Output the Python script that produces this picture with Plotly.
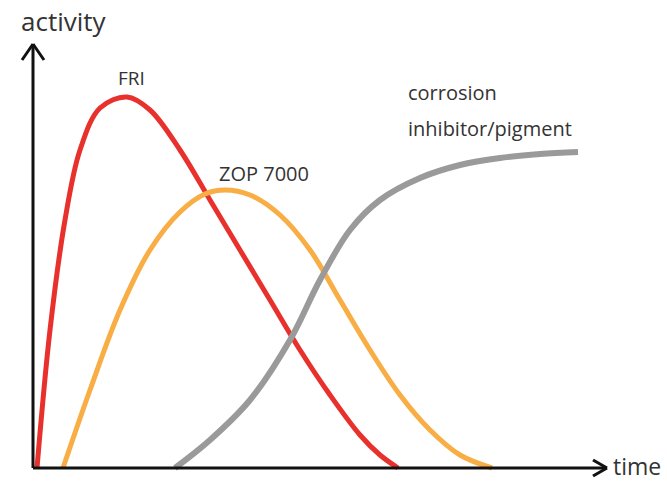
import plotly.graph_objects as go

# Data (x: time in arbitrary units, y: activity in arbitrary units)
fri_time = [4, 17, 32, 47, 67, 94, 117, 147, 177, 207, 237, 267, 297, 327, 347, 365]
fri_activity = [0, 138, 248, 318, 360, 371, 358, 318, 268, 218, 168, 118, 73, 33, 13, 0]

zop_time = [30, 57, 87, 117, 147, 172, 192, 217, 247, 277, 307, 337, 367, 397, 427, 459]
zop_activity = [0, 78, 158, 218, 256, 274, 278, 273, 253, 218, 168, 118, 73, 38, 13, 0]

ci_time = [142, 177, 217, 257, 287, 317, 347, 387, 427, 467, 507, 545]
ci_activity = [0, 28, 68, 128, 188, 238, 268, 290, 303, 310, 314, 316]

FONT = "Open Sans"
TXT = "#333333"

L, R, T, B = 13, 59, 32, 0
W, H = 667, 481
PW, PH = W - L - R, H - T - B

fig = go.Figure()
fig.add_trace(go.Scatter(x=fri_time, y=fri_activity, mode="lines",
                         line=dict(color="#e8302c", width=5, shape="spline", smoothing=1.0),
                         name="FRI", cliponaxis=False))
fig.add_trace(go.Scatter(x=zop_time, y=zop_activity, mode="lines",
                         line=dict(color="#f8ad45", width=5, shape="spline", smoothing=1.0),
                         name="ZOP 7000", cliponaxis=False))
fig.add_trace(go.Scatter(x=ci_time, y=ci_activity, mode="lines",
                         line=dict(color="#9a9a9a", width=6, shape="spline", smoothing=1.0),
                         name="corrosion inhibitor/pigment", cliponaxis=False))

AX = dict(color="#111111", width=3)
shapes = [
    dict(type="line", xref="x", yref="y", x0=0, y0=0, x1=0, y1=424, line=AX),
    dict(type="line", xref="x", yref="y", x0=-11, y0=408, x1=0, y1=424, line=AX),
    dict(type="line", xref="x", yref="y", x0=11, y0=408, x1=0, y1=424, line=AX),
    dict(type="line", xref="x", yref="y", x0=0, y0=0, x1=574, y1=0, line=AX),
    dict(type="line", xref="x", yref="y", x0=560, y0=8, x1=574, y1=0, line=AX),
    dict(type="line", xref="x", yref="y", x0=560, y0=-8, x1=574, y1=0, line=AX),
]

def px_paper(px, py):
    return (px - L) / PW, (H - B - py) / PH

ax_x, ax_y = px_paper(19, 21)
tm_x, tm_y = px_paper(662, 466)

annotations = [
    dict(text="activity", xref="paper", yref="paper", x=ax_x, y=ax_y, xanchor="left", yanchor="middle",
         showarrow=False, font=dict(family=FONT, size=26, color=TXT)),
    dict(text="time", xref="paper", yref="paper", x=tm_x, y=tm_y, xanchor="right", yanchor="middle",
         showarrow=False, borderpad=0, font=dict(family=FONT, size=23, color=TXT)),
    dict(text="FRI", xref="x", yref="y", x=98, y=390, xanchor="center", yanchor="middle",
         showarrow=False, font=dict(family=FONT, size=19, color=TXT)),
    dict(text="ZOP 7000", xref="x", yref="y", x=231, y=295, xanchor="center", yanchor="middle",
         showarrow=False, font=dict(family=FONT, size=20, color=TXT)),
    dict(text="corrosion", xref="x", yref="y", x=373, y=376, xanchor="left", yanchor="middle",
         showarrow=False, font=dict(family=FONT, size=20, color=TXT)),
    dict(text="inhibitor/pigment", xref="x", yref="y", x=373, y=340, xanchor="left", yanchor="middle",
         showarrow=False, font=dict(family=FONT, size=20, color=TXT)),
]

fig.update_layout(
    width=W, height=H,
    margin=dict(l=L, r=R, t=T, b=B, pad=0),
    paper_bgcolor="white", plot_bgcolor="white",
    showlegend=False,
    xaxis=dict(range=[-(33 - L), 575], visible=False, fixedrange=True),
    yaxis=dict(range=[-(H - B - 468), 468 - T], visible=False, fixedrange=True),
    shapes=shapes,
    annotations=annotations,
)

fig.write_html("out.html", config={"displayModeBar": False},
               post_script="document.body.style.margin='0';")
